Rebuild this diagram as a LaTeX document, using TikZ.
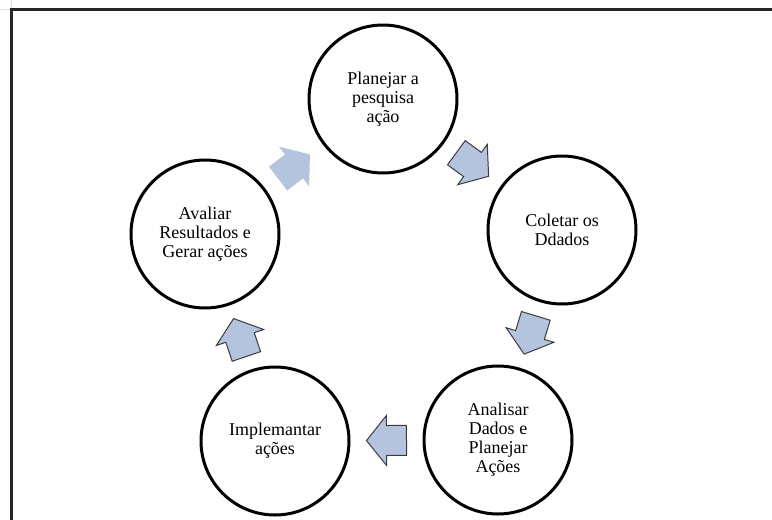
\documentclass[tikz,border=0pt]{standalone}
\usepackage{fontspec}
\setmainfont{Liberation Serif}
\usetikzlibrary{calc}

\definecolor{arrowfill}{RGB}{180,196,222}
\definecolor{arrowline}{RGB}{60,60,60}

\tikzset{
  x=1pt, y=-1pt,
  stage/.style={circle, draw=black, line width=3pt, minimum size=148pt,
    inner sep=0pt, align=center, font=\fontsize{18}{19}\selectfont},
  outlined/.style={fill=arrowfill, draw=arrowline, line width=1pt, line join=miter},
  plain/.style={fill=arrowfill},
  arrowstyle/.style={},
  % block arrow pointing along +x, centred on the origin
  flowarrow/.pic={
    \path[arrowstyle] (-20,-15) -- (0,-15) -- (0,-25) -- (20,0)
      -- (0,25) -- (0,15) -- (-20,15) -- cycle;
  },
}

\begin{document}
\begin{tikzpicture}
  \useasboundingbox (0,0) rectangle (772,520);

  % page frame
  \draw[gray!25, line width=1pt] (0,9.5) -- (11.5,9.5) (11.5,0) -- (11.5,9.5);
  \draw[black!85, line width=2.5pt] (11.5,520) -- (11.5,9.5) -- (772,9.5);

  % stages of the cycle
  \node[stage] (top)   at (383,99)  {Planejar a\\pesquisa\\ação};
  \node[stage] (right) at (562,230) {Coletar os\\Ddados};
  \node[stage] (br)    at (498,440) {Analisar\\Dados e\\Planejar\\Ações};
  \node[stage] (bl)    at (275,441) {Implemantar\\ações};
  \node[stage] (left)  at (205,234) {Avaliar\\Resultados e\\Gerar ações};

  % block arrows between consecutive stages
  \foreach \a/\b/\st in {left/top/plain, top/right/outlined, right/br/outlined,
                         br/bl/outlined, bl/left/outlined}{
    \path let \p1=($(\b)-(\a)$), \n1={atan2(\y1,\x1)} in
      ($(\a)!0.5!(\b)$) pic[rotate=\n1, arrowstyle/.style=\st] {flowarrow};
  }
\end{tikzpicture}
\end{document}
